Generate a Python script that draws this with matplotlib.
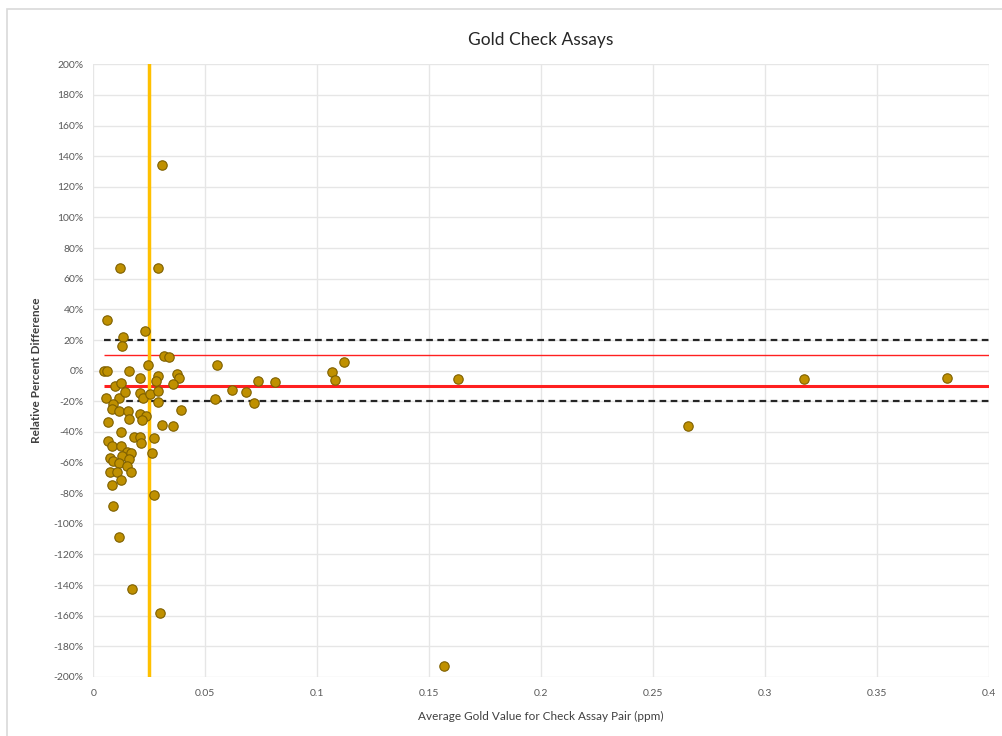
import matplotlib
matplotlib.use("Agg")
import matplotlib.pyplot as plt
from matplotlib.ticker import FuncFormatter, MultipleLocator
from matplotlib.patches import Rectangle

# Average gold value (ppm) and relative percent difference (%)
avg_au = [0.0306, 0.012, 0.0287, 0.0062, 0.023, 0.0134, 0.013, 0.0316, 0.0339, 0.0554,
          0.005, 0.0061, 0.0161, 0.0246, 0.021, 0.0287, 0.0376, 0.0382, 0.0282, 0.0357,
          0.0098, 0.0125, 0.0057, 0.0113, 0.0141, 0.0207, 0.022, 0.0253, 0.0291, 0.0290,
          0.0543, 0.009, 0.0085, 0.0117, 0.0153, 0.0391, 0.021, 0.0235, 0.0217, 0.0159,
          0.0064, 0.0306, 0.0357, 0.0126, 0.0066, 0.0083, 0.0125, 0.0183, 0.0207, 0.0211,
          0.0272, 0.0262, 0.015, 0.0168, 0.0128, 0.0073, 0.009, 0.0159, 0.0117, 0.0149,
          0.0076, 0.0108, 0.0168, 0.0126, 0.0082, 0.0272, 0.009, 0.0115, 0.0175, 0.0296,
          0.0621, 0.0684, 0.0717, 0.0737, 0.0813, 0.1067, 0.1081, 0.1121, 0.1627, 0.1566,
          0.2655, 0.3176, 0.3812]
rel_diff = [134, 67, 67, 33, 26, 22, 16, 9.5, 9, 3.6,
            0, 0, 0, 4, -4.7, -3.4, -2, -5, -7, -8.6,
            -10, -8, -18, -18, -14, -14.5, -18, -15.5, -13.6, -20.7,
            -18.6, -22, -25, -26.4, -26.6, -25.8, -28, -29.7, -32.5, -31.8,
            -33.6, -35.6, -36.2, -40, -45.8, -49.5, -49.3, -43.6, -43.6, -47.5,
            -43.8, -53.6, -53.2, -54, -55.6, -56.9, -58.8, -57.7, -60.6, -62.1,
            -66, -66, -66, -71.7, -74.7, -81, -88.4, -108.8, -142.6, -158.4,
            -12.9, -14.2, -20.8, -6.6, -7.5, -1, -5.8, 5.4, -5.5, -193,
            -36, -5.3, -4.5]

# reference lines
limit_outer = 20
limit_inner = 10
line_start = 0.005
detection_limit = 0.025

plt.rcParams['font.family'] = ['Lato', 'DejaVu Sans']

fig = plt.figure(figsize=(10.03, 7.36), dpi=100)
fig.patches.append(Rectangle((0.007, -0.01), 1.05, 0.998, transform=fig.transFigure,
                             fill=False, edgecolor='#d9d9d9', linewidth=1.2))
ax = fig.add_axes([0.093, 0.0802, 0.893, 0.8324])

ax.set_xlim(0, 0.4)
ax.set_ylim(-200, 200)
ax.xaxis.set_major_locator(MultipleLocator(0.05))
ax.yaxis.set_major_locator(MultipleLocator(20))
ax.xaxis.set_major_formatter(FuncFormatter(lambda v, p: '0' if v == 0 else f'{v:g}'))
ax.yaxis.set_major_formatter(FuncFormatter(lambda v, p: f'{v:.0f}%'))
ax.grid(True, color='#e6e6e6', linewidth=1)
ax.set_axisbelow(True)
for s in ax.spines.values():
    s.set_visible(False)
ax.tick_params(length=0, labelsize=7.5, colors='#595959', pad=7)
ax.tick_params(axis='x', pad=9)

ax.hlines([limit_outer, -limit_outer], line_start, 0.4, colors='#262626',
          linestyles=(0, (3, 2)), linewidth=1.6, zorder=2)
ax.hlines(limit_inner, line_start, 0.4, colors='#ff2020', linewidth=1, zorder=2)
ax.hlines(-limit_inner, line_start, 0.4, colors='#ff2020', linewidth=2.2, zorder=2)
ax.axvline(detection_limit, color='#ffc000', linewidth=2.5, zorder=2)

ax.scatter(avg_au, rel_diff, s=46, color='#bf9000', edgecolors='#7f6000',
           linewidths=0.8, zorder=3)

ax.set_title('Gold Check Assays', fontsize=12.5, color='#262626', pad=14)
ax.set_xlabel('Average Gold Value for Check Assay Pair (ppm)', fontsize=8.5,
              color='#404040', labelpad=9)
ax.set_ylabel('Relative Percent Difference', fontsize=8.5, color='#404040',
              fontweight='bold', labelpad=8)

fig.savefig('out.png', dpi=100)
